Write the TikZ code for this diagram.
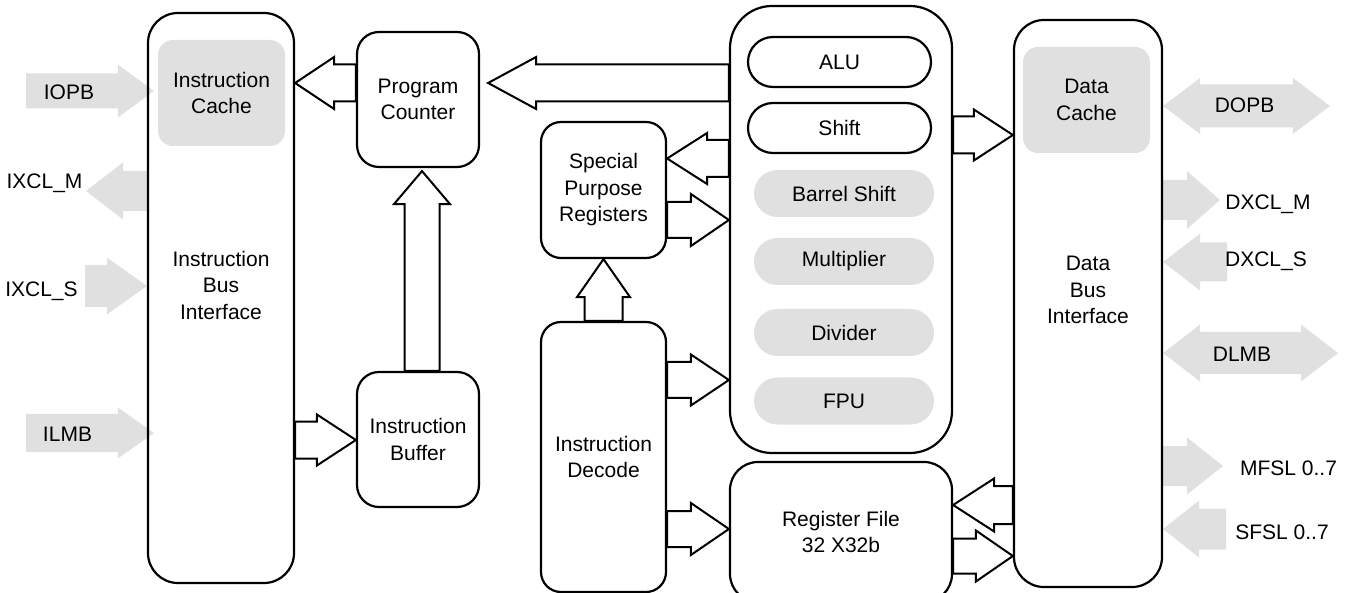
\documentclass[tikz,border=0pt]{standalone}
\usepackage{fontspec}
\setmainfont{Liberation Sans}
\usetikzlibrary{calc, shapes.misc, backgrounds}
\definecolor{bGray}{HTML}{E0E0E0}

% fat bus arrow: #1 style, #2 base, #3 tip, #4 half body, #5 half head, #6 head length
\newcommand{\busarrow}[6]{%
  \path (#3) coordinate (tip) ($(#3)!#6pt!(#2)$) coordinate (neck);
  \path[#1] ($(#2)!#4pt!90:(tip)$) -- ($(neck)!#4pt!90:(tip)$) -- ($(neck)!#5pt!90:(tip)$)
    -- (tip) -- ($(neck)!#5pt!-90:(tip)$) -- ($(neck)!#4pt!-90:(tip)$)
    -- ($(#2)!#4pt!-90:(tip)$) -- cycle;}
% same with a head on both ends: #2 and #3 are the two tips
\newcommand{\dualarrow}[6]{%
  \path ($(#2)!#6pt!(#3)$) coordinate (lneck) ($(#3)!#6pt!(#2)$) coordinate (rneck);
  \path[#1] (#2) -- ($(lneck)!#5pt!90:(#3)$) -- ($(lneck)!#4pt!90:(#3)$)
    -- ($(rneck)!#4pt!-90:(#2)$) -- ($(rneck)!#5pt!-90:(#2)$) -- (#3)
    -- ($(rneck)!#5pt!90:(#2)$) -- ($(rneck)!#4pt!90:(#2)$)
    -- ($(lneck)!#4pt!-90:(#3)$) -- ($(lneck)!#5pt!-90:(#3)$) -- cycle;}

\begin{document}
\begin{tikzpicture}[x=1pt, y=-1pt, font=\fontsize{21}{26.5}\selectfont,
  block/.style={draw, line width=2.2pt, rounded corners=#1, align=center, inner sep=0pt},
  block/.default=20pt,
  cachebox/.style={fill=bGray, rounded corners=15pt, align=center, inner sep=0pt,
                   minimum width=127pt, minimum height=106pt},
  unit/.style={rounded rectangle, draw, line width=2.2pt, minimum width=183pt,
               minimum height=50pt, inner sep=0pt},
  optunit/.style={rounded rectangle, fill=bGray, minimum width=180pt,
                  minimum height=47pt, inner sep=0pt},
  bus/.style={draw, line width=2pt, fill=white},
  ext/.style={fill=bGray},
  sig/.style={anchor=base},
]
  \useasboundingbox (0,0) rectangle (1352,593);

  % Instruction side
  \node[block=30pt, minimum width=146pt, minimum height=570pt,
        label={[align=center, yshift=13pt]center:Instruction\\Bus\\Interface}] (ibi) at (221,298) {};
  \node[cachebox] (icache) at (221.5,93) {Instruction\\Cache};
  \node[block=22pt, minimum width=122pt, minimum height=135pt] (pc) at (418,99.5) {Program\\Counter};
  \node[block=22pt, minimum width=122pt, minimum height=135pt] (ib) at (418,439.5) {Instruction\\Buffer};

  % Execution units
  \node[block=42pt, minimum width=222pt, minimum height=447pt] (ex) at (841,229.5) {};
  \node[unit] (alu) at (839.5,62) {ALU};
  \node[unit] (shift) at (839.5,128) {Shift};
  \foreach \y/\nm/\lab in {193.5/barrel/Barrel Shift, 261.5/mult/Multiplier, 332.5/div/Divider, 401/fpu/FPU}
    \node[optunit] (\nm) at (844,\y) {\lab};
  \node[block, minimum width=125pt, minimum height=136pt] (spr) at (603.5,190) {Special\\Purpose\\Registers};
  \node[block, minimum width=125pt, minimum height=270pt] (id) at (603.5,457) {Instruction\\Decode};
  \node[block=28pt, minimum width=222pt, minimum height=140pt] (rf) at (841,532) {Register File\\32 X32b};

  % Data side
  \node[block=30pt, minimum width=148pt, minimum height=567pt,
        label={[align=center, yshift=13.5pt]center:Data\\Bus\\Interface}] (dbi) at (1088,303.5) {};
  \node[cachebox] (dcache) at (1086.5,100) {Data\\Cache};

  % Internal buses
  \coordinate (pcin) at ($(pc.east |- 0,83)+(8,0)$);
  \coordinate (ibup) at ($(ib.north)+(4,0)$);
  \coordinate (pcdown) at ($(pc.south)+(4,3)$);
  \busarrow{bus}{pc.west |- 0,83}{ibi.east |- 0,83}{18.5}{26}{39}
  \busarrow{bus}{ex.west |- 0,83}{pcin}{18.5}{26}{48}
  \busarrow{bus}{ibup}{pcdown}{17.5}{28}{33}
  \busarrow{bus}{ibi.east |- 0,440}{ib.west |- 0,440}{18.5}{25.5}{39}
  \busarrow{bus}{ex.west |- 0,158.5}{spr.east |- 0,158.5}{18.5}{25.5}{40}
  \busarrow{bus}{spr.east |- 0,220}{ex.west |- 0,220}{18}{26}{38}
  \busarrow{bus}{id.north}{spr.south}{19}{26.5}{38}
  \busarrow{bus}{id.east |- 0,380}{ex.west |- 0,380}{18}{25.5}{38}
  \busarrow{bus}{id.east |- 0,529}{rf.west |- 0,529}{18}{26}{38}
  \busarrow{bus}{ex.east |- 0,135}{dbi.west |- 0,135}{18.5}{25.5}{39}
  \busarrow{bus}{dbi.west |- 0,505}{rf.east |- 0,505}{19}{26.5}{41}
  \busarrow{bus}{rf.east |- 0,556}{dbi.west |- 0,556}{17.5}{25.5}{37}

  % External ports
  \begin{scope}[on background layer]
    \coordinate (iopb) at (26,91);
    \coordinate (iopbtip) at ($(ibi.west |- 0,91)+(7,0)$);
    \coordinate (ixclm) at (86,191);
    \coordinate (ixcls) at (85,286);
    \coordinate (ilmb) at (26,433);
    \coordinate (ilmbtip) at ($(ibi.west |- 0,433)+(7,0)$);
    \coordinate (dopb) at (1330,106);
    \coordinate (dxclm) at (1220,200);
    \coordinate (dxcls) at (1227,262);
    \coordinate (dlmb) at (1338,353);
    \coordinate (mfsl) at (1223,466);
    \coordinate (sfsl) at (1226,529);
    \busarrow{ext}{iopb}{iopbtip}{17.5}{26.5}{36}
    \busarrow{ext}{ibi.west |- 0,191}{ixclm}{20}{28.5}{37}
    \busarrow{ext}{ixcls}{ibi.west |- 0,286}{21}{28.5}{40}
    \busarrow{ext}{ilmb}{ilmbtip}{19}{25.5}{36}
    \dualarrow{ext}{dbi.east |- 0,106}{dopb}{21.5}{28}{37}
    \busarrow{ext}{dbi.east |- 0,200}{dxclm}{20}{29}{33}
    \busarrow{ext}{dxcls}{dbi.east |- 0,262}{19.5}{28.5}{37}
    \dualarrow{ext}{dbi.east |- 0,353}{dlmb}{21}{28.5}{37}
    \busarrow{ext}{dbi.east |- 0,466}{mfsl}{20}{28.5}{36}
    \busarrow{ext}{sfsl}{dbi.east |- 0,529}{20.5}{28.5}{36}
  \end{scope}

  \node[sig] (iopblab) at (69,100) {IOPB};
  \node[sig] (ixclmlab) at (44.5,189) {IXCL\_M};
  \node[sig] (ixclslab) at (41.5,297) {IXCL\_S};
  \node[sig] (ilmblab) at (67.5,442) {ILMB};
  \node[sig] (dopblab) at (1244.5,113) {DOPB};
  \node[sig] (dxclmlab) at (1268,210) {DXCL\_M};
  \node[sig] (dxclslab) at (1266,267) {DXCL\_S};
  \node[sig] (dlmblab) at (1242,362) {DLMB};
  \node[sig] (mfsllab) at (1288.5,475) {MFSL 0..7};
  \node[sig] (sfsllab) at (1282,539) {SFSL 0..7};
\end{tikzpicture}
\end{document}
